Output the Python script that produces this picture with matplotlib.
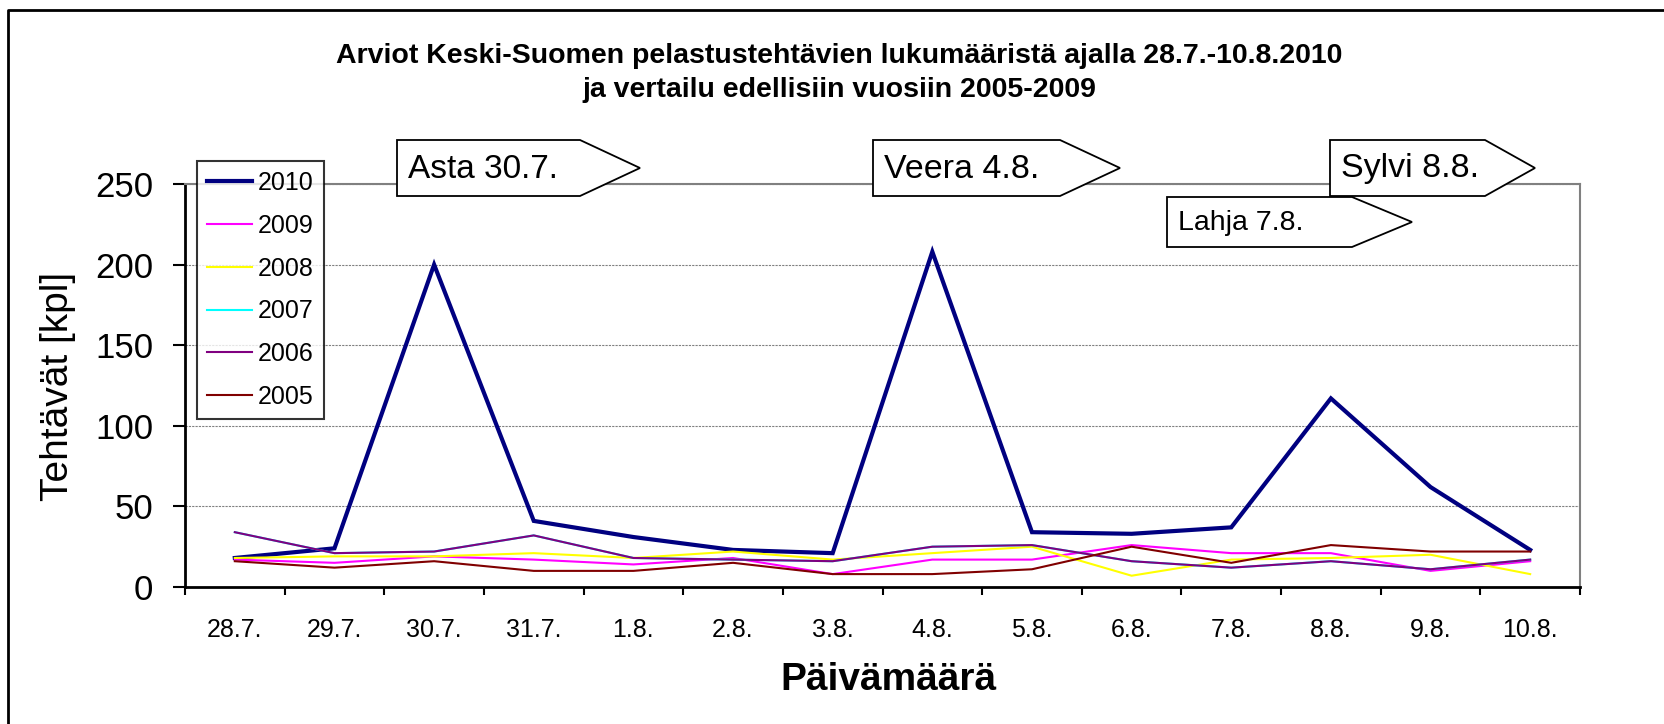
import matplotlib
matplotlib.use("Agg")
import matplotlib.pyplot as plt
from matplotlib.patches import Polygon
from matplotlib.lines import Line2D

plt.rcParams['font.family'] = ['Liberation Sans', 'DejaVu Sans']

# päivämäärät ja tehtävämäärät vuosittain
dates = ['28.7.', '29.7.', '30.7.', '31.7.', '1.8.', '2.8.', '3.8.',
         '4.8.', '5.8.', '6.8.', '7.8.', '8.8.', '9.8.', '10.8.']
v2010 = [18, 24, 200, 41, 31, 23, 21, 208, 34, 33, 37, 117, 62, 23]
v2009 = [17, 15, 19, 17, 14, 18, 8, 17, 17, 26, 21, 21, 10, 16]
v2008 = [18, 19, 19, 21, 18, 22, 17, 21, 25, 7, 17, 18, 20, 8]
v2007 = [34, 21, 22, 32, 18, 17, 16, 25, 26, 16, 12, 16, 11, 17]
v2006 = [34, 21, 22, 32, 18, 17, 16, 25, 26, 16, 12, 16, 11, 17]
v2005 = [16, 12, 16, 10, 10, 15, 8, 8, 11, 25, 15, 26, 22, 22]

series = [("2010", v2010, "#000080", 3.0),
          ("2009", v2009, "#FF00FF", 1.5),
          ("2008", v2008, "#FFFF00", 1.5),
          ("2007", v2007, "#00FFFF", 1.5),
          ("2006", v2006, "#800080", 1.5),
          ("2005", v2005, "#800000", 1.5)]

W, H = 1665, 724
fig = plt.figure(figsize=(W / 100, H / 100), dpi=100)


def fx(px):
    return px / W


def fy(py):
    return 1 - py / H


ax = fig.add_axes([fx(185), fy(587), fx(1580) - fx(185), fy(184) - fy(587)])

x = list(range(len(dates)))
for name, vals, col, lw in series:
    ax.plot(x, vals, color=col, lw=lw, label=name, solid_joinstyle='miter')

ax.set_xlim(-0.5, len(dates) - 0.5)
ax.set_ylim(0, 250)

# ruudukko
ax.set_yticks([0, 50, 100, 150, 200, 250])
ax.yaxis.grid(True, color='#808080', linestyle=(0, (2, 1)), lw=0.8)
ax.set_axisbelow(True)

ax.set_xticks([i - 0.5 for i in range(len(dates) + 1)])
ax.set_xticklabels([])
ax.set_xticks(x, minor=True)
ax.set_xticklabels(dates, minor=True, fontsize=18)
ax.tick_params(axis='x', which='major', length=6, width=1.5, direction='out')
ax.tick_params(axis='x', which='minor', length=0, pad=22)
ax.tick_params(axis='y', length=9, width=1.5, direction='out', labelsize=25, pad=14)

for s in ['left', 'bottom']:
    ax.spines[s].set_linewidth(2)
    ax.spines[s].set_color('black')
for s in ['top', 'right']:
    ax.spines[s].set_linewidth(1.5)
    ax.spines[s].set_color('#808080')

leg = fig.legend(loc='upper left', bbox_to_anchor=(fx(197), fy(161)),
                 fontsize=18, frameon=True, fancybox=False, edgecolor='black',
                 handlelength=1.8, handletextpad=0.25, labelspacing=0.75,
                 borderpad=0.4, borderaxespad=0)
leg.get_frame().set_linewidth(1.5)

fig.text(0.504, fy(73), "Arviot Keski-Suomen pelastustehtävien lukumääristä ajalla 28.7.-10.8.2010\n"
         "ja vertailu edellisiin vuosiin 2005-2009",
         ha='center', va='center', fontsize=20.5, fontweight='bold', linespacing=1.4)
fig.text(fx(58), fy(386), "Tehtävät [kpl]", rotation=90, ha='center', va='center', fontsize=28)
fig.text(fx(888), fy(680), "Päivämäärä", ha='center', va='center', fontsize=28, fontweight='bold')


# nimipäivä-nuolet
def arrow_box(left, top, bottom, body, tip, label, size):
    pts = [(fx(left), fy(top)), (fx(body), fy(top)), (fx(tip), fy((top + bottom) / 2)),
           (fx(body), fy(bottom)), (fx(left), fy(bottom))]
    fig.patches.append(Polygon(pts, closed=True, transform=fig.transFigure,
                               facecolor='white', edgecolor='black', lw=1.3))
    fig.text(fx(left + 11), fy((top + bottom) / 2 + 1), label, ha='left', va='center', fontsize=size)


arrow_box(397, 140, 196, 580, 640, "Asta 30.7.", 24)
arrow_box(873, 140, 196, 1060, 1120, "Veera 4.8.", 24.5)
arrow_box(1330, 140, 196, 1485, 1535, "Sylvi 8.8.", 24.5)
arrow_box(1167, 197, 247, 1352, 1412, "Lahja 7.8.", 20.5)

# kehys
fig.add_artist(Line2D([fx(8), fx(8), 1.0], [0.0, fy(10), fy(10)],
                      transform=fig.transFigure, color='black', lw=2))

plt.savefig("out.png", dpi=100)
plt.close()
